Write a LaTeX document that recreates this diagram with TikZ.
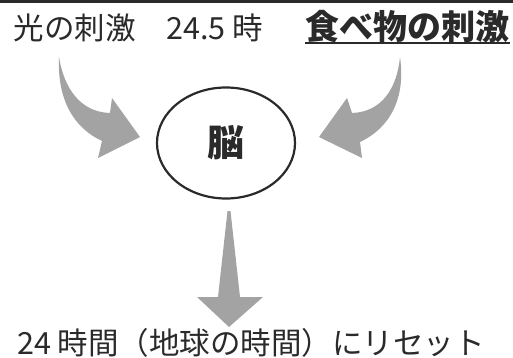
\documentclass[tikz,border=0pt]{standalone}
\usepackage{fontspec}
\setmainfont{Noto Sans CJK JP}
\usetikzlibrary{shapes.geometric}
\definecolor{txt}{HTML}{2A2A2A}
\definecolor{arr}{HTML}{A3A3A3}
\tikzset{
  lbl/.style={inner sep=0pt, text=txt, font=\fontsize{30.5}{36}\selectfont},
  boldlbl/.style={inner sep=0pt, text=txt, font=\fontsize{34}{40}\selectfont\bfseries},
  brain/.style={ellipse, draw=txt, line width=2.2pt, minimum width=138pt, minimum height=111pt, inner sep=0pt, font=\fontsize{37}{42}\selectfont\bfseries, text=txt},
  blockarrow/.style={fill=arr, draw=none}
}
\begin{document}
\begin{tikzpicture}[x=1pt,y=-1pt]
\useasboundingbox (0,0) rectangle (513,358);
\node[lbl] (light) at (138.5,28) {光の刺激　24.5 時};
\node[boldlbl] (food) at (407.5,26.5) {食べ物の刺激};
\draw[txt, line width=2.2pt] (food.west |- 0,43) -- (food.east |- 0,43);
\node[brain] (brain) at (226,143) {脳};
\node[lbl] (reset) at (251,343) {24 時間（地球の時間）にリセット};
% left curved arrow
\fill[blockarrow] (59,57) .. controls (64,88) and (80,112) .. (110,113)
  -- (112,98) -- (140,137) -- (98,158) -- (102,141)
  .. controls (74,128) and (57,100) .. (59,57) -- cycle;
% right curved arrow
\fill[blockarrow] (400,57) .. controls (397,88) and (382,112) .. (352,113)
  -- (347,98) -- (319,137) -- (362,158) -- (360,142)
  .. controls (390,128) and (406,98) .. (400,57) -- cycle;
% down arrow
\fill[blockarrow] (227.5,211) -- (230.5,211) -- (240,297) -- (263,297) -- (229,327) -- (197,297) -- (218,297) -- cycle;
% top rule
\fill[txt] (0,0) rectangle (513,2.6);
\end{tikzpicture}
\end{document}
